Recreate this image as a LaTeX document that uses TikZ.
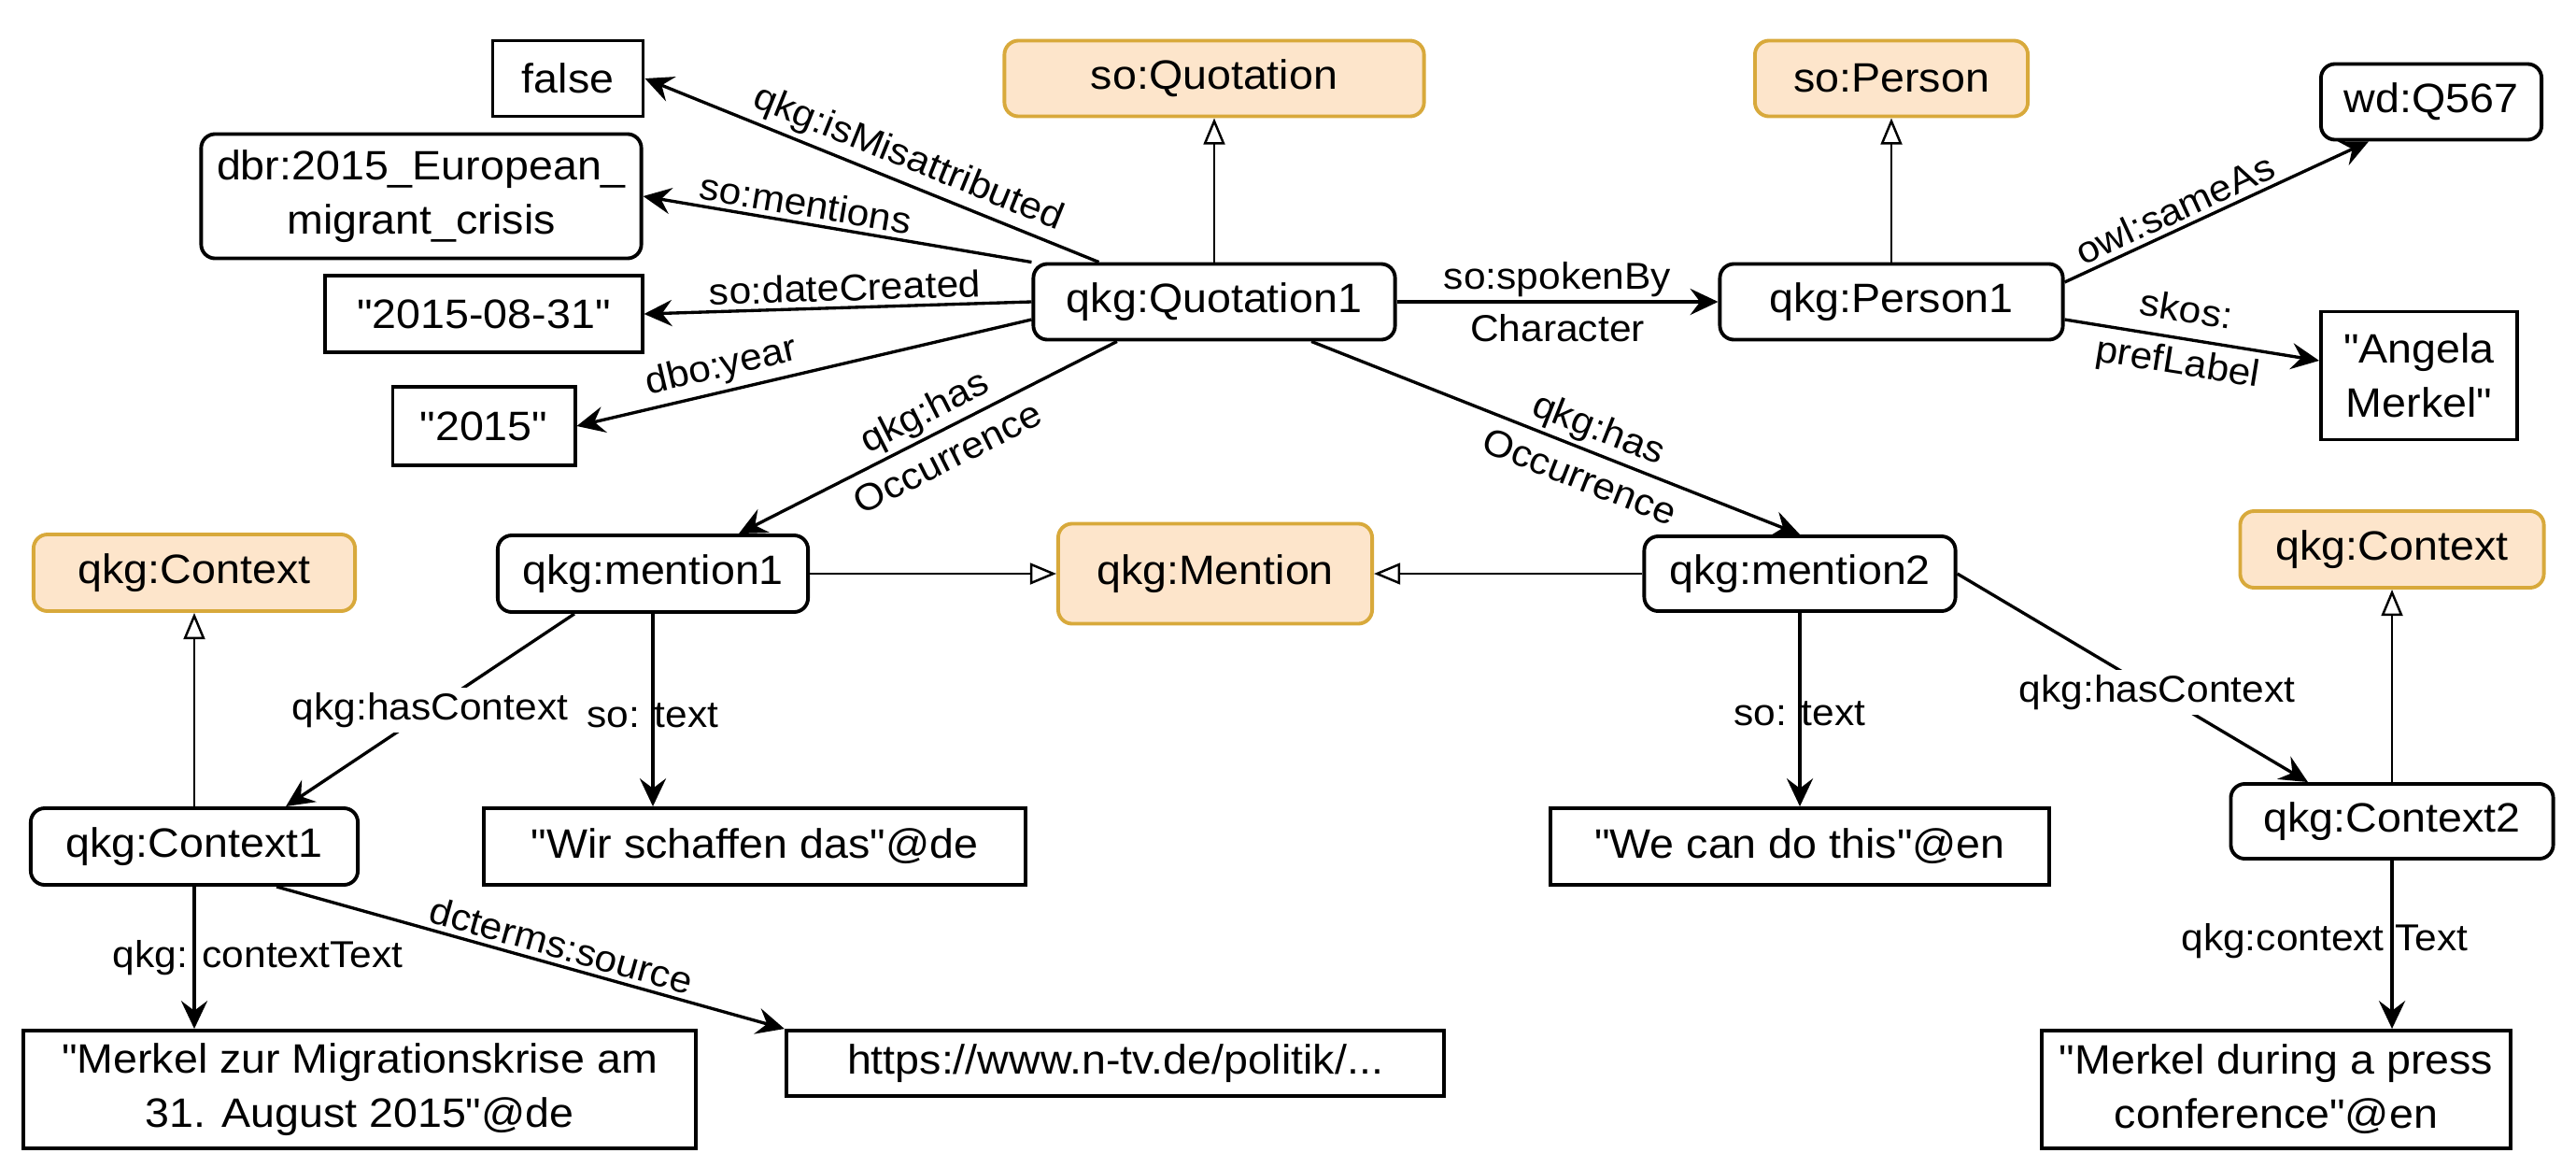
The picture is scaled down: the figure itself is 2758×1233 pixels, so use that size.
\documentclass[tikz,border=0pt]{standalone}
\usepackage{fontspec}
\setmainfont{Liberation Sans}[FakeStretch=1.06, Ligatures=TeXOff]
\usetikzlibrary{arrows.meta}

\definecolor{clsfill}{HTML}{FDE5CB}
\definecolor{clsline}{HTML}{D8A93B}

\tikzset{
  inst/.style={draw, rounded corners=0.15cm, line width=1.1pt, inner sep=0pt,
               minimum height=0.81cm, align=center, font=\fontsize{12.5}{16.5}\selectfont},
  lit/.style={inst, sharp corners},
  cls/.style={inst, draw=clsline, fill=clsfill},
  rel/.style={line width=0.95pt, -{Stealth[length=8.5pt,width=8pt,inset=3pt]}},
  isa/.style={line width=0.7pt, -{Triangle[open,length=8pt,width=6.5pt]}},
  lab/.style={inner sep=1.5pt, align=center, font=\fontsize{11.4}{16}\selectfont}
}

\begin{document}
\begin{tikzpicture}[x=0.01cm,y=-0.01cm]
  \pgfmathsetmacro\toprow{84}
  \pgfmathsetmacro\quotrow{323}
  \pgfmathsetmacro\mentrow{614}
  \pgfmathsetmacro\textrow{906}
  \pgfmathsetmacro\botrow{1166}

  \fill[white] (0,0) rectangle (2758,1233);
  \useasboundingbox (0,0) rectangle (2758,1233);

% quotation, person and their values
  \node[lit, minimum width=1.61cm] (vFalse) at (608,\toprow) {false};
  \node[inst, minimum width=4.71cm, minimum height=1.33cm] (vCrisis) at (451,210) {dbr:2015\_European\_\\migrant\_crisis};
  \node[lit, minimum width=3.39cm, minimum height=0.82cm] (vDate) at (518,336) {"2015-08-31"};
  \node[lit, minimum width=1.95cm, minimum height=0.84cm] (vYear) at (518,456) {"2015"};
  \node[cls, minimum width=4.49cm] (cQuotation) at (1300,\toprow) {so:Quotation};
  \node[cls, minimum width=2.92cm] (cPerson) at (2025,\toprow) {so:Person};
  \node[inst, minimum width=2.36cm] (vWikidata) at (2603,109) {wd:Q567};
  \node[inst, minimum width=3.87cm] (quotation) at (1300,\quotrow) {qkg:Quotation1};
  \node[inst, minimum width=3.67cm] (person) at (2025,\quotrow) {qkg:Person1};
  \node[lit, minimum width=2.10cm, minimum height=1.37cm] (vName) at (2590,402) {"Angela\\Merkel"};

% mentions and contexts
  \node[cls, minimum width=3.44cm, minimum height=0.82cm] (cContextL) at (208,613) {qkg:Context};
  \node[inst, minimum width=3.32cm, minimum height=0.82cm] (mentionA) at (699,\mentrow) {qkg:mention1};
  \node[cls, minimum width=3.36cm, minimum height=1.07cm] (cMention) at (1301,\mentrow) {qkg:Mention};
  \node[inst, minimum width=3.33cm, minimum height=0.80cm] (mentionB) at (1927,\mentrow) {qkg:mention2};
  \node[cls, minimum width=3.25cm, minimum height=0.82cm] (cContextR) at (2561,588) {qkg:Context};
  \node[inst, minimum width=3.50cm, minimum height=0.82cm] (contextA) at (208,\textrow) {qkg:Context1};
  \node[lit, minimum width=5.79cm, minimum height=0.82cm] (textA) at (808,\textrow) {"Wir schaffen das"@de};
  \node[lit, minimum width=5.34cm, minimum height=0.82cm] (textB) at (1927,\textrow) {"We can do this"@en};
  \node[inst, minimum width=3.45cm, minimum height=0.80cm] (contextB) at (2561,879) {qkg:Context2};
  \node[lit, minimum width=7.20cm, minimum height=1.26cm] (ctextA) at (385,\botrow) {"Merkel zur Migrationskrise am\\31. August 2015"@de};
  \node[lit, minimum width=7.04cm, minimum height=0.70cm] (source) at (1194,1138) {https://www.n-tv.de/politik/...};
  \node[lit, minimum width=5.01cm, minimum height=1.26cm] (ctextB) at (2437,\botrow) {"Merkel during a press\\conference"@en};

% properties of the quotation
  \draw[rel] ([xshift=0.72cm]quotation.north west) -- node[lab, sloped, above, pos=0.44] {qkg:isMisattributed} (vFalse.east);
  \draw[rel] (quotation.north west) -- node[lab, sloped, above, pos=0.59] {so:mentions} (vCrisis.east);
  \draw[rel] (quotation.west) -- node[lab, sloped, above, pos=0.48] {so:dateCreated} (vDate.east);
  \draw[rel] ([yshift=-0.19cm]quotation.west) -- node[lab, sloped, above, pos=0.67] {dbo:year} (vYear.east);
  \draw[rel] (quotation) -- node[lab] {so:spokenBy\\Character} (person);
  \draw[rel] ([xshift=-1.04cm]quotation.south) -- node[lab, sloped, pos=0.48] {qkg:has\\Occurrence} ([xshift=0.92cm]mentionA.north);
  \draw[rel] ([xshift=1.04cm]quotation.south) -- node[lab, sloped, pos=0.57] {qkg:has\\Occurrence} (mentionB.north);
  \draw[rel] ([yshift=0.21cm]person.east) -- node[lab, sloped, above, pos=0.39] {owl:sameAs} ([xshift=-0.67cm]vWikidata.south);
  \draw[rel] ([yshift=-0.19cm]person.east) -- node[lab, sloped, pos=0.46] {skos:\\prefLabel} ([yshift=0.16cm]vName.west);

% class membership
  \draw[isa] (quotation) -- (cQuotation);
  \draw[isa] (person) -- (cPerson);
  \draw[isa] (mentionA) -- (cMention);
  \draw[isa] (mentionB) -- (cMention);
  \draw[isa] (contextA) -- (cContextL);
  \draw[isa] (contextB) -- (cContextR);

% mentions, texts and contexts
  \draw[rel] ([xshift=-0.84cm]mentionA.south) -- node[lab, fill=white] {qkg:hasContext} ([xshift=0.98cm]contextA.north);
  \draw[rel] (mentionA.south) -- node[lab, pos=0.53] {so: text} (mentionA.south |- textA.north);
  \draw[rel] (mentionB) -- node[lab, pos=0.52] {so: text} (textB);
  \draw[rel] (mentionB.east) -- node[lab, fill=white, pos=0.57] {qkg:hasContext} ([xshift=-0.9cm]contextB.north);
  \draw[rel] (contextA.south) -- node[lab, pos=0.5, xshift=0.68cm] {qkg: contextText} (contextA.south |- ctextA.north);
  \draw[rel] ([xshift=0.88cm]contextA.south) -- node[lab, sloped, above, pos=0.55] {dcterms:source} (source.north west);
  \draw[rel] (contextB.south) -- node[lab, pos=0.48, xshift=-0.72cm] {qkg:context Text} (contextB.south |- ctextB.north);
\end{tikzpicture}
\end{document}
